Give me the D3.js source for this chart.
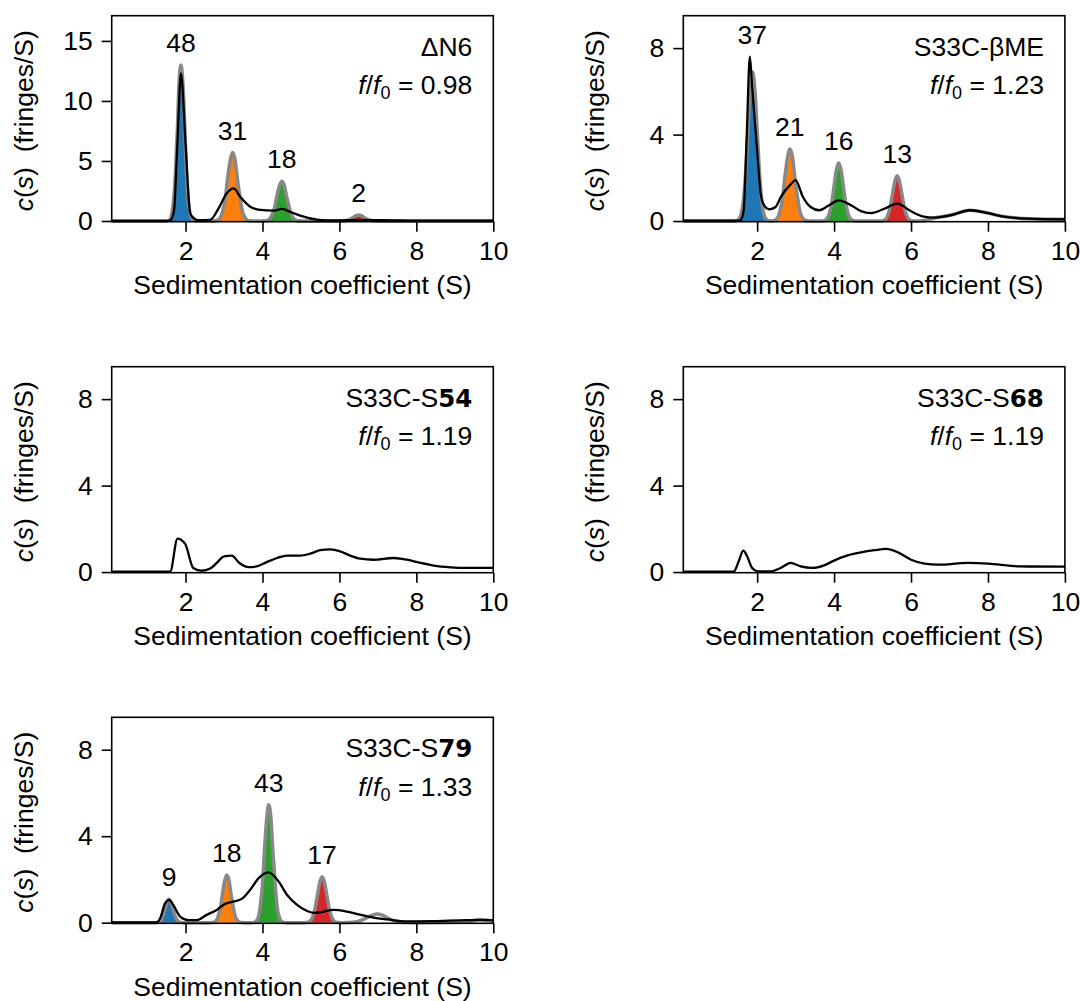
<!DOCTYPE html>
<html>
<head>
<meta charset="utf-8">
<script src="https://cdn.jsdelivr.net/npm/d3@7"></script>
<style>
body { margin: 0; background: #fff; }
svg text { font-family: "Liberation Sans", Arial, Helvetica, sans-serif; fill: #000; }
</style>
</head>
<body>
<svg id="fig" width="1080" height="1001"></svg>
<script>
// ---- data ----
var xTicks = [2, 4, 6, 8, 10];
var yTicksDN6 = [0, 5, 10, 15];
var yTicksOther = [0, 4, 8];

var panelTitles = ["\u0394N6", "S33C-\u03b2ME", "S33C-S", "S33C-S", "S33C-S"];
var panelBold = ["", "", "54", "68", "79"];
var panelFF = ["0.98", "1.23", "1.19", "1.19", "1.33"];

// black: measured c(s), gray: sum of species
var dn6Black = [[0.08,0.01],[1.55,0.01],[1.62,0.1],[1.70,0.9],[1.79,6.6],[1.88,12.3],[2.0,6.4],[2.12,0.64],[2.22,0.22],[2.33,0.06],[2.64,0.1],[2.85,1.0],[3.07,2.3],[3.25,2.72],[3.42,2.02],[3.68,1.19],[3.94,0.92],[4.29,0.86],[4.5,1.0],[4.77,0.69],[5.07,0.36],[5.46,0.1],[5.85,0.05],[6.5,0.1],[7.5,0.05],[8.5,0.02],[10,0.02]];
var dn6Gray = [[0.08,0],[1.50,0],[1.55,0.026],[1.60,0.14],[1.64,0.57],[1.69,1.76],[1.74,4.22],[1.79,7.88],[1.83,11.47],[1.88,13.0],[1.93,11.47],[1.98,7.88],[2.02,4.22],[2.07,1.76],[2.12,0.57],[2.17,0.14],[2.21,0.026],[2.28,0],
  [2.70,0],[2.77,0.01],[2.83,0.06],[2.90,0.25],[2.96,0.77],[3.03,1.85],[3.09,3.46],[3.16,5.03],[3.22,5.7],[3.29,5.03],[3.35,3.46],[3.42,1.85],[3.48,0.77],[3.55,0.25],[3.61,0.06],[3.68,0.01],[3.75,0],
  [4.0,0],[4.05,0.01],[4.11,0.04],[4.18,0.14],[4.24,0.45],[4.31,1.07],[4.37,2.0],[4.44,2.91],[4.5,3.3],[4.57,2.91],[4.63,2.0],[4.70,1.07],[4.76,0.45],[4.83,0.14],[4.89,0.04],[4.96,0.01],[5.05,0],
  [6.0,0],[6.08,0.01],[6.15,0.02],[6.22,0.07],[6.29,0.16],[6.36,0.3],[6.43,0.44],[6.5,0.5],[6.57,0.44],[6.64,0.3],[6.71,0.16],[6.78,0.07],[6.85,0.02],[6.92,0.01],[7.0,0],[10,0]];
var dn6Peaks = [{s: 1.88, pct: 48, lo: 1.4, hi: 2.45}, {s: 3.22, pct: 31, lo: 2.6, hi: 3.9}, {s: 4.5, pct: 18, lo: 3.95, hi: 5.2}, {s: 6.5, pct: 2, lo: 5.8, hi: 7.2}];

var bmeBlack = [[0.09,0.02],[1.5,0.02],[1.57,0.05],[1.65,0.5],[1.73,4.0],[1.81,7.61],[1.87,6.2],[2.02,2.8],[2.09,1.27],[2.18,0.73],[2.31,0.54],[2.48,0.65],[2.61,1.1],[2.87,1.7],[3.0,1.89],[3.18,1.15],[3.39,0.65],[3.61,0.5],[3.87,0.73],[4.12,0.96],[4.44,0.73],[4.7,0.46],[4.96,0.37],[5.31,0.57],[5.64,0.81],[6.0,0.45],[6.3,0.22],[6.61,0.16],[7.05,0.28],[7.53,0.5],[8.0,0.37],[8.36,0.22],[9.05,0.11],[10,0.08]];
var bmeGray = [[0.09,0],[1.40,0],[1.46,0.015],[1.52,0.08],[1.58,0.30],[1.64,0.93],[1.70,2.24],[1.76,4.19],[1.82,6.09],[1.88,6.9],[1.94,6.09],[2.00,4.19],[2.06,2.24],[2.12,0.93],[2.18,0.30],[2.24,0.08],[2.30,0.02],[2.36,0.01],
  [2.40,0.01],[2.46,0.04],[2.53,0.15],[2.59,0.45],[2.66,1.08],[2.72,2.02],[2.79,2.94],[2.85,3.33],[2.92,2.94],[2.98,2.02],[3.05,1.08],[3.11,0.45],[3.18,0.15],[3.24,0.04],[3.31,0.01],[3.40,0],
  [3.62,0],[3.70,0.006],[3.76,0.03],[3.82,0.12],[3.88,0.36],[3.94,0.87],[4.00,1.63],[4.06,2.37],[4.12,2.69],[4.18,2.37],[4.24,1.63],[4.30,0.87],[4.36,0.36],[4.42,0.12],[4.48,0.03],[4.54,0.006],[4.62,0],
  [5.14,0],[5.22,0.005],[5.28,0.023],[5.34,0.09],[5.40,0.28],[5.46,0.68],[5.52,1.27],[5.58,1.84],[5.64,2.09],[5.70,1.84],[5.76,1.27],[5.82,0.68],[5.88,0.28],[5.94,0.09],[6.00,0.023],[6.06,0.005],[6.2,0],
  [6.3,0.01],[6.6,0.14],[7.05,0.28],[7.53,0.5],[8.0,0.37],[8.36,0.22],[9.05,0.11],[10,0.08]];
var bmePeaks = [{s: 1.87, pct: 37, lo: 1.4, hi: 2.35}, {s: 2.85, pct: 21, lo: 2.35, hi: 3.5}, {s: 4.12, pct: 16, lo: 3.5, hi: 4.8}, {s: 5.64, pct: 13, lo: 4.8, hi: 6.25}];

var s54Black = [[0.08,0.02],[1.60,0.02],[1.79,1.55],[1.99,1.30],[2.20,0.19],[2.42,0.06],[2.64,0.16],[2.81,0.42],[3.0,0.73],[3.2,0.76],[3.4,0.42],[3.64,0.23],[3.85,0.26],[4.11,0.46],[4.38,0.65],[4.64,0.76],[4.98,0.76],[5.24,0.85],[5.5,1.01],[5.76,1.05],[6.02,0.96],[6.28,0.76],[6.54,0.62],[6.89,0.57],[7.41,0.65],[7.76,0.57],[8.11,0.42],[8.45,0.3],[8.89,0.22],[9.32,0.19],[10,0.19]];

var s68Black = [[0.08,0.02],[1.39,0.02],[1.52,0.5],[1.64,0.99],[1.74,0.73],[1.87,0.19],[2.04,0.03],[2.35,0.03],[2.61,0.19],[2.87,0.42],[3.13,0.26],[3.44,0.19],[3.74,0.31],[4.0,0.53],[4.35,0.77],[4.70,0.91],[5.05,1.01],[5.35,1.07],[5.66,0.91],[6.0,0.57],[6.35,0.39],[6.70,0.34],[7.48,0.42],[8.01,0.39],[8.79,0.26],[10,0.25]];

var s79Black = [[0.08,0.01],[1.25,0.01],[1.34,0.2],[1.47,0.9],[1.57,1.05],[1.68,0.82],[1.86,0.28],[2.07,0.12],[2.29,0.12],[2.55,0.36],[2.81,0.59],[3.03,0.87],[3.24,0.97],[3.46,1.1],[3.68,1.52],[3.9,2.06],[4.16,2.33],[4.42,1.9],[4.64,1.28],[4.9,0.82],[5.16,0.54],[5.35,0.45],[5.5,0.48],[5.85,0.59],[6.2,0.51],[6.54,0.37],[6.89,0.23],[7.24,0.15],[7.76,0.06],[8.45,0.07],[9.32,0.12],[10,0.12]];
var s79Gray = [[0.08,0],[1.20,0],[1.27,0.012],[1.32,0.047],[1.37,0.146],[1.42,0.35],[1.47,0.66],[1.52,0.95],[1.57,1.08],[1.62,0.95],[1.67,0.66],[1.72,0.35],[1.77,0.146],[1.82,0.047],[1.87,0.012],[1.95,0],
  [2.60,0],[2.69,0.005],[2.74,0.024],[2.80,0.097],[2.85,0.30],[2.91,0.72],[2.96,1.34],[3.02,1.95],[3.07,2.21],[3.13,1.95],[3.18,1.34],[3.24,0.72],[3.29,0.30],[3.35,0.097],[3.40,0.024],[3.46,0.005],[3.54,0],
  [3.70,0],[3.78,0.012],[3.83,0.06],[3.89,0.24],[3.94,0.74],[4.00,1.77],[4.05,3.31],[4.11,4.82],[4.16,5.46],[4.22,4.82],[4.27,3.31],[4.33,1.77],[4.38,0.74],[4.44,0.24],[4.49,0.06],[4.55,0.012],[4.62,0],
  [5.05,0],[5.13,0.005],[5.19,0.023],[5.25,0.09],[5.31,0.29],[5.37,0.69],[5.43,1.29],[5.49,1.87],[5.55,2.12],[5.61,1.87],[5.67,1.29],[5.73,0.69],[5.79,0.29],[5.85,0.09],[5.91,0.023],[5.97,0.005],[6.05,0],
  [6.23,0.004],[6.48,0.054],[6.73,0.24],[6.86,0.35],[6.98,0.4],[7.11,0.35],[7.23,0.24],[7.48,0.054],[7.73,0.004],[8.0,0],[9.3,0.03],[9.65,0.14],[10,0.06]];
var s79Peaks = [{s: 1.57, pct: 9, lo: 1.0, hi: 2.3}, {s: 3.07, pct: 18, lo: 2.3, hi: 3.6}, {s: 4.16, pct: 43, lo: 3.6, hi: 4.85}, {s: 5.55, pct: 17, lo: 4.85, hi: 6.1}];

var speciesColors = ["#1f77b4", "#ff7f0e", "#2ca02c", "#d62728"];

// ---- layout ----
var W = 381.6, H = 206;
var colLeft = [111.7, 683.3];
var rowTop = [15.7, 366.7, 717.3];
var xDomain = [0.08, 10];
var fs = 26.5;

var svg = d3.select("#fig");

var panels = [
    {black: dn6Black, gray: dn6Gray, peaks: dn6Peaks, yDomain: [-0.06, 17.1], yTicks: yTicksDN6, col: 0, row: 0},
    {black: bmeBlack, gray: bmeGray, peaks: bmePeaks, yDomain: [-0.03, 9.5], yTicks: yTicksOther, col: 1, row: 0},
    {black: s54Black, gray: null, peaks: [], yDomain: [-0.03, 9.5], yTicks: yTicksOther, col: 0, row: 1},
    {black: s68Black, gray: null, peaks: [], yDomain: [-0.03, 9.5], yTicks: yTicksOther, col: 1, row: 1},
    {black: s79Black, gray: s79Gray, peaks: s79Peaks, yDomain: [-0.03, 9.5], yTicks: yTicksOther, col: 0, row: 2}
];

function drawPanel(p, i) {

    var g = svg.append("g")
        .attr("transform", "translate(" + colLeft[p.col] + "," + rowTop[p.row] + ")");

    var x = d3.scaleLinear().domain(xDomain).range([0, W]);
    var y = d3.scaleLinear().domain(p.yDomain).range([H, 0]);

    var line = d3.line()
        .x(function (d) { return x(d[0]); })
        .y(function (d) { return y(d[1]); })
        .curve(d3.curveMonotoneX);

    var area = d3.area()
        .x(function (d) { return x(d[0]); })
        .y0(y(0))
        .y1(function (d) { return y(d[1]); })
        .curve(d3.curveMonotoneX);

    // coloured species, area under the gray curve inside each range
    p.peaks.forEach(function (pk, k) {
        var id = "clip" + i + "_" + k;
        g.append("clipPath").attr("id", id)
            .append("rect")
            .attr("x", x(pk.lo)).attr("y", 0)
            .attr("width", x(pk.hi) - x(pk.lo)).attr("height", H);
        g.append("path")
            .attr("d", area(p.gray))
            .attr("clip-path", "url(#" + id + ")")
            .attr("fill", speciesColors[k]);
    });

    if (p.gray) {
        g.append("path")
            .attr("d", line(p.gray))
            .attr("fill", "none")
            .attr("stroke", "#888888")
            .attr("stroke-width", 3.5)
            .attr("stroke-linejoin", "round");
    }

    g.append("path")
        .attr("d", line(p.black))
        .attr("fill", "none")
        .attr("stroke", "#000")
        .attr("stroke-width", 2.3)
        .attr("stroke-linejoin", "round");

    // percentage labels above each peak
    p.peaks.forEach(function (pk) {
        var near = p.black.concat(p.gray).filter(function (d) {
            return Math.abs(d[0] - pk.s) <= 0.12;
        });
        var top = d3.max(near, function (d) { return d[1]; });
        g.append("text")
            .attr("x", x(pk.s))
            .attr("y", y(top) - 13)
            .attr("text-anchor", "middle")
            .style("font-size", fs + "px")
            .text(pk.pct);
    });

    // frame
    g.append("rect")
        .attr("width", W).attr("height", H)
        .attr("fill", "none")
        .attr("stroke", "#000")
        .attr("stroke-width", 1.6);

    var xAxis = g.append("g")
        .attr("transform", "translate(0," + H + ")")
        .call(d3.axisBottom(x).tickValues(xTicks).tickSize(10).tickSizeOuter(0).tickPadding(9));
    var yAxis = g.append("g")
        .call(d3.axisLeft(y).tickValues(p.yTicks).tickSize(10).tickSizeOuter(0).tickPadding(9));

    [xAxis, yAxis].forEach(function (ax) {
        ax.select(".domain").remove();
        ax.attr("font-family", null).attr("font-size", null);
        ax.selectAll("line").attr("stroke", "#000").attr("stroke-width", 1.6);
        ax.selectAll("text").style("font-size", fs + "px").attr("fill", "#000");
    });

    // axis titles
    g.append("text")
        .attr("x", W / 2)
        .attr("y", H + 72.5)
        .attr("text-anchor", "middle")
        .style("font-size", fs + "px")
        .text("Sedimentation coefficient (S)");

    var yl = g.append("text")
        .attr("transform", "translate(-79," + (H / 2 + 2) + ") rotate(-90)")
        .attr("text-anchor", "middle")
        .style("font-size", fs + "px")
        .style("white-space", "pre");
    yl.append("tspan").style("font-style", "italic").text("c");
    yl.append("tspan").text("(");
    yl.append("tspan").style("font-style", "italic").text("s");
    yl.append("tspan").text(")  (fringes/S)");

    // sample name and frictional ratio
    var t1 = g.append("text")
        .attr("x", W - 21).attr("y", 40)
        .attr("text-anchor", "end")
        .style("font-size", fs + "px");
    t1.append("tspan").text(panelTitles[i]);
    if (panelBold[i]) {
        t1.append("tspan")
            .style("font-family", "'DejaVu Sans', sans-serif")
            .style("font-weight", "bold")
            .style("font-size", "24.5px")
            .text(panelBold[i]);
    }

    var t2 = g.append("text")
        .attr("x", W - 21).attr("y", 78.5)
        .attr("text-anchor", "end")
        .style("font-size", fs + "px")
        .style("white-space", "pre");
    t2.append("tspan").style("font-style", "italic").text("f");
    t2.append("tspan").text("/");
    t2.append("tspan").style("font-style", "italic").text("f");
    t2.append("tspan").attr("dy", 5).style("font-size", "18px").text("0");
    t2.append("tspan").attr("dy", -5).text(" = " + panelFF[i]);
}

panels.forEach(drawPanel);
</script>
</body>
</html>
